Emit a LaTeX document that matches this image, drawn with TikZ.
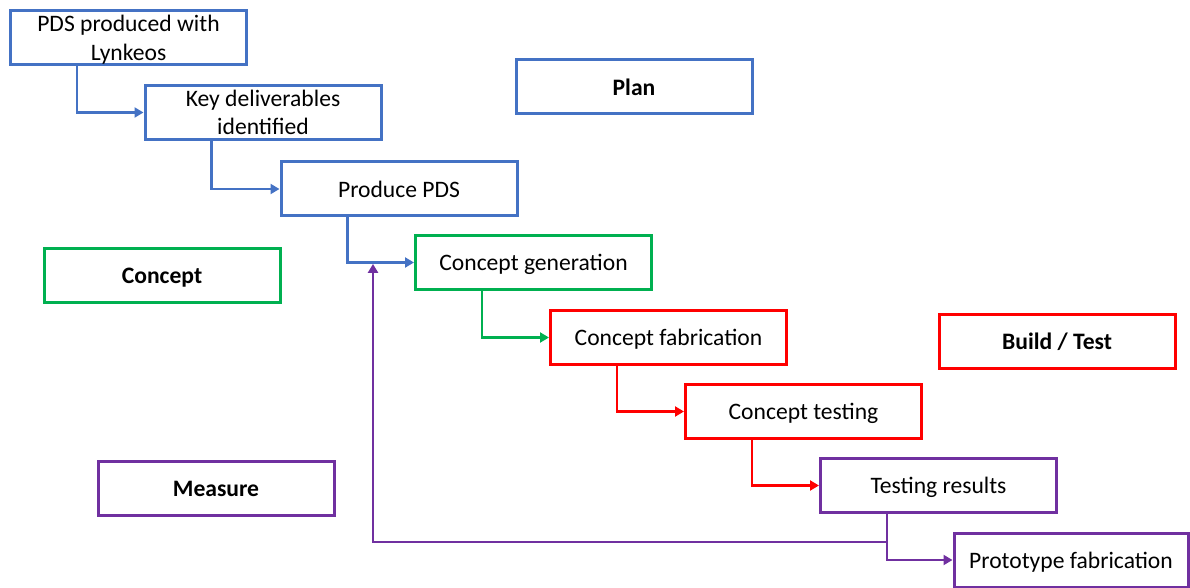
\documentclass[tikz,border=0pt]{standalone}
\usepackage{fontspec}
\setmainfont{Carlito}
\usetikzlibrary{arrows.meta}
\definecolor{cblue}{HTML}{4472C4}
\definecolor{cgreen}{HTML}{00B050}
\definecolor{cred}{HTML}{FF0000}
\definecolor{cpurple}{HTML}{7030A0}
\tikzset{
  stage/.style={draw=#1, line width=1.5pt, fill=white, minimum width=118pt, minimum height=27pt,
    inner sep=0pt, text depth=0pt, align=center, font=\fontsize{11.8}{14.2}\selectfont},
  legend/.style={stage=#1, font=\fontsize{11.8}{14.2}\selectfont\bfseries},
  link/.style={draw=#1, line width=1.4pt, -{Triangle[length=4.5pt,width=5pt]}},
}
\begin{document}
\begin{tikzpicture}[x=0.5pt, y=-0.5pt]
\useasboundingbox (0,0) rectangle (1190,588);

% process stages
\node[stage=cblue]   (b1) at (128.5,38)  {PDS produced with\\Lynkeos};
\node[stage=cblue]   (b2) at (263,112.5) {Key deliverables\\identified};
\node[stage=cblue]   (b3) at (399,189)   {Produce PDS};
\node[stage=cgreen]  (b4) at (533.5,262.5) {Concept generation};
\node[stage=cred]    (b5) at (668.5,337.5) {Concept fabrication};
\node[stage=cred]    (b6) at (803.5,411.5) {Concept testing};
\node[stage=cpurple] (b7) at (938.5,485.5) {Testing results};
\node[stage=cpurple, minimum width=117pt] (b8) at (1071,560) {Prototype fabrication};

% phase legend
\node[legend=cblue]   (lplan)  at (634,87)   {Plan};
\node[legend=cgreen]  (lconc)  at (162,276)    {Concept};
\node[legend=cred]    (lbuild) at (1057,341.5) {Build / Test};
\node[legend=cpurple] (lmeas)  at (216,488.5)  {Measure};

% step connectors
\draw[link=cblue]   ([xshift=34pt]b1.south west) |- (b2.west);
\draw[link=cblue]   ([xshift=34pt]b2.south west) |- (b3.west);
\draw[link=cblue]   ([xshift=34pt]b3.south west) |- (b4.west);
\draw[link=cgreen]  ([xshift=34pt]b4.south west) |- (b5.west);
\draw[link=cred]    ([xshift=34pt]b5.south west) |- (b6.west);
\draw[link=cred]    ([xshift=34pt]b6.south west) |- (b7.west);
\draw[link=cpurple] ([xshift=34pt]b7.south west) |- (b8.west);

% feedback loop back to concept generation
\coordinate (junc) at ([xshift=34pt,yshift=-14pt]b7.south west);
\coordinate (fbx) at (373,0);
\draw[link=cpurple] (junc) -| ([yshift=-0.7pt]fbx |- b4.west);
\end{tikzpicture}
\end{document}
